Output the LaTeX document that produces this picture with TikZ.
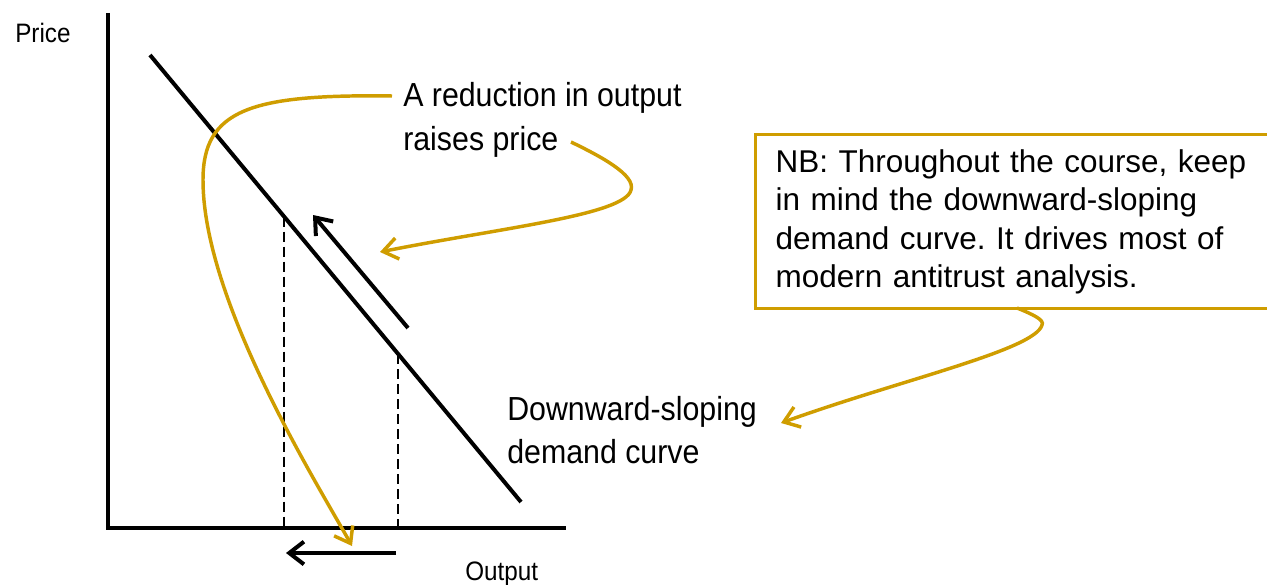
\documentclass[tikz,border=0pt]{standalone}
\usepackage{fontspec}
\setmainfont{Liberation Sans}
\newfontfamily\narrowfont[FakeStretch=0.91]{Liberation Sans}
\usetikzlibrary{arrows.meta}
\definecolor{gold}{RGB}{207,157,0}
\begin{document}
\begin{tikzpicture}[x=0.75pt,y=-0.75pt,
  axis/.style={line width=3pt},
  dashline/.style={line width=2.1pt, dash pattern=on 7.5pt off 3.75pt},
  blackarrow/.style={line width=3pt,-{Straight Barb[length=11pt,width=17pt,line width=3pt]}},
  goldarrow/.style={draw=gold,line width=2.6pt,-{Straight Barb[length=11pt,width=16pt,line width=2.6pt]}},
  lbl/.style={font=\narrowfont\fontsize{25}{32.25}\selectfont, inner sep=0pt, anchor=base west, align=left},
  axlbl/.style={font=\narrowfont\fontsize{20}{22}\selectfont, inner sep=0pt, anchor=base west},
  nbbox/.style={draw=gold, line width=2.6pt, anchor=north west, minimum width=390.75pt,
    minimum height=130.5pt, text width=360.75pt, inner xsep=15pt, inner ysep=0pt, align=left,
    font=\fontsize{23.6}{28.9}\selectfont},
]
\useasboundingbox (0,0) rectangle (1267,585);
% axes
\coordinate (ytop) at (108,13);
\coordinate (origin) at (108,528);
\coordinate (xend) at (566,528);
\draw[axis] (ytop) -- (origin) -- (xend);
\node[axlbl] (price) at (15,43) {Price};
\node[axlbl] (output) at (465,580) {Output};
% demand curve
\coordinate (d1) at (150,55);
\coordinate (d2) at (521,502);
\draw[axis] (d1) -- (d2);
% dashed verticals
\coordinate (q1t) at (284,216.5);
\coordinate (q1b) at (284,528);
\coordinate (q2t) at (398,354);
\coordinate (q2b) at (398,528);
\draw[dashline] (q1t) -- (q1b);
\draw[dashline] (q2t) -- (q2b);
% black arrows
\coordinate (pa1) at (408,328);
\coordinate (pa2) at (313,215);
\draw[blackarrow] (pa1) -- (pa2);
\coordinate (ba1) at (396,553);
\coordinate (ba2) at (286,553);
\draw[blackarrow] (ba1) -- (ba2);
% labels (base anchor = last line baseline)
\node[lbl] (red) at (403,150) {A reduction in output\\raises price};
\node[lbl] (dsd) at (507,463) {Downward-sloping\\demand curve};
\node[nbbox] (nb) at (754,133) {NB: Throughout the course, keep\\in mind the downward-sloping\\demand curve.\ It drives most of\\modern antitrust analysis.};
% gold arrows
\coordinate (g1s) at (392,96);
\coordinate (g1m) at (203,180);
\coordinate (g1e) at (352,546);
\draw[goldarrow] (g1s) .. controls (250,94) and (203,110) .. (g1m)
  .. controls (203,300) and (315,480) .. (g1e);
\coordinate (g2s) at (571,142);
\coordinate (g2m) at (631,190);
\coordinate (g2e) at (380,252);
\draw[goldarrow] (g2s) .. controls (600,156) and (636,175) .. (g2m)
  .. controls (625,215) and (500,228) .. (g2e);
\coordinate (g3s) at (1017,308);
\coordinate (g3m) at (1042,325);
\coordinate (g3e) at (781,423);
\draw[goldarrow] (g3s) .. controls (1032,314) and (1045,320) .. (g3m)
  .. controls (1035,350) and (900,380) .. (g3e);
\end{tikzpicture}
\end{document}
